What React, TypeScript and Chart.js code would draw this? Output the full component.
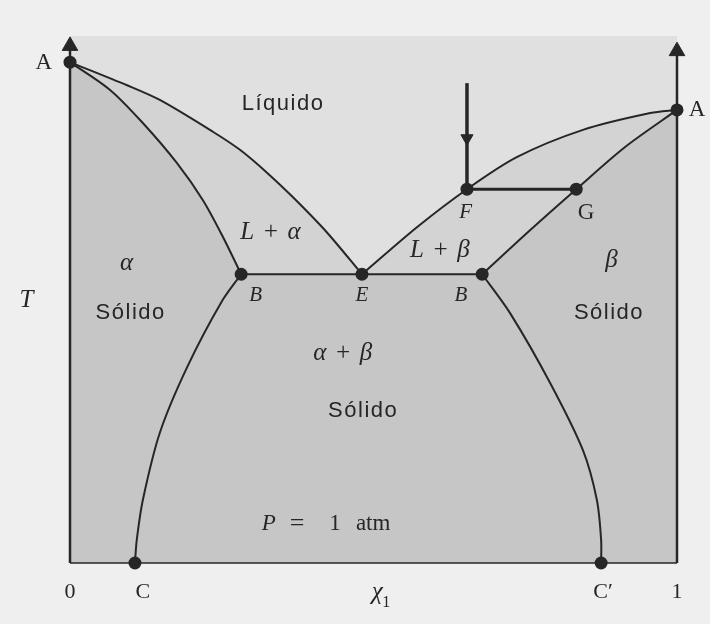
import React, { useEffect, useRef } from 'react';
import { Chart, registerables } from 'chart.js';

Chart.register(...registerables);

// Composition x (mole fraction) vs temperature T (relative units 0-100)
const liquidusLeft: number[][] = [[0, 95.4], [0.094, 91.0], [0.148, 88.2], [0.236, 82.1], [0.280, 78.7], [0.325, 74.3], [0.367, 69.7], [0.423, 63.0], [0.481, 55.0]];
const liquidusRight: number[][] = [[0.481, 55.0], [0.572, 64.0], [0.654, 71.2], [0.736, 77.3], [0.845, 82.5], [0.956, 85.7], [1, 86.3]];
const solidusLeft: number[][] = [[0, 95.4], [0.066, 90.1], [0.120, 83.8], [0.176, 76.2], [0.219, 69.1], [0.252, 62.1], [0.282, 55.0]];
const solidusRight: number[][] = [[0.679, 55.0], [0.756, 63.2], [0.834, 71.2], [0.914, 79.2], [1, 86.3]];
const solvusLeft: number[][] = [[0.282, 55.0], [0.250, 49.8], [0.193, 37.3], [0.148, 24.8], [0.120, 12.0], [0.110, 4.4], [0.107, 0]];
const solvusRight: number[][] = [[0.679, 55.0], [0.725, 47.6], [0.791, 34.3], [0.845, 21.5], [0.868, 12.0], [0.875, 4.4], [0.875, 0]];
const eutecticLine: number[][] = [[0.282, 55.0], [0.481, 55.0], [0.679, 55.0]];
const tieLine: number[][] = [[0.654, 71.2], [0.834, 71.2]];
const coolingPath: number[][] = [[0.654, 91.4], [0.654, 71.2]];
const leftAxisLine: number[][] = [[0, 0], [0, 98.5]];
const rightAxisLine: number[][] = [[1, 0], [1, 97.5]];
const baseLine: number[][] = [[0, 0], [1, 0]];

// Named points: A, A', B, E, B', F, G, C, C'
const markerPoints: number[][] = [[0, 95.4], [1, 86.3], [0.282, 55.0], [0.481, 55.0], [0.679, 55.0], [0.654, 71.2], [0.834, 71.2], [0.107, 0], [0.875, 0]];
// Arrow heads: two axis tips (up) and the cooling arrow (down)
const arrowPoints: number[][] = [[0, 98.5], [1, 97.5], [0.654, 80.9]];
const arrowRotation = [0, 0, 180];

// Tick labels along the composition axis
const xTickValues = [0, 0.12, 0.506, 0.878, 1];
const xTickLabels = ['0', 'C', 'χ', 'C′', '1'];

// Region / point annotations [text, x, T]
const labelTexts = ['A', 'A', 'Líquido', 'L + α', 'α', 'Sólido', 'B', 'E', 'B', 'L + β', 'F', 'G', 'β', 'Sólido', 'α + β', 'Sólido', 'T'];
const labelX = [-0.043, 1.033, 0.351, 0.331, 0.094, 0.100, 0.306, 0.481, 0.644, 0.610, 0.652, 0.850, 0.893, 0.888, 0.450, 0.483, -0.071];
const labelT = [95.2, 86.3, 87.4, 63.0, 57.1, 47.6, 50.9, 50.9, 50.9, 59.6, 66.7, 66.7, 57.7, 47.6, 40.0, 29.0, 50.1];
const labelKind = ['serif', 'serif', 'sans', 'ital', 'ital', 'sans', 'itals', 'itals', 'itals', 'ital', 'itals', 'serif', 'ital', 'sans', 'ital', 'sans', 'ital'];

const toXY = (arr: number[][]) => arr.map(([x, y]) => ({ x, y }));

const INK = '#262626';
const PAGE = '#efefef';
const LIQUID = '#e0e0e0';
const TWO_PHASE = '#d3d3d3';
const SOLID = '#c6c6c6';

export default function App() {
  const ref = useRef<HTMLCanvasElement>(null);

  useEffect(() => {
    if (!ref.current) return;

    const bgPlugin = {
      id: 'bgPlugin',
      beforeDraw(chart: any) {
        const { ctx, chartArea } = chart;
        ctx.save();
        ctx.fillStyle = PAGE;
        ctx.fillRect(0, 0, chart.width, chart.height);
        ctx.fillStyle = LIQUID;
        ctx.fillRect(chartArea.left, chartArea.top - 2, chartArea.right - chartArea.left, chartArea.bottom - chartArea.top + 2);
        ctx.restore();
      },
    };

    const textPlugin = {
      id: 'textPlugin',
      afterDatasetsDraw(chart: any) {
        const { ctx } = chart;
        const xs = chart.scales.x;
        const ys = chart.scales.y;
        ctx.save();
        ctx.fillStyle = INK;
        ctx.textAlign = 'center';
        ctx.textBaseline = 'middle';
        labelTexts.forEach((t, i) => {
          const kind = labelKind[i];
          if (kind === 'sans') {
            ctx.font = '22px "Liberation Sans", Arial, sans-serif';
            (ctx as any).letterSpacing = '1.5px';
          } else if (kind === 'ital') {
            ctx.font = 'italic 25px "Liberation Serif", serif';
            (ctx as any).letterSpacing = '1px';
          } else if (kind === 'itals') {
            ctx.font = 'italic 21px "Liberation Serif", serif';
            (ctx as any).letterSpacing = '0px';
          } else {
            ctx.font = '23px "Liberation Serif", serif';
            (ctx as any).letterSpacing = '0px';
          }
          ctx.fillText(t, xs.getPixelForValue(labelX[i]), ys.getPixelForValue(labelT[i]));
        });
        // P = 1 atm
        const py = ys.getPixelForValue(7.4);
        ctx.textAlign = 'left';
        (ctx as any).letterSpacing = '0px';
        ctx.font = 'italic 23px "Liberation Serif", serif';
        ctx.fillText('P', xs.getPixelForValue(0.316), py);
        ctx.font = '26px "Liberation Serif", serif';
        ctx.fillText('=', xs.getPixelForValue(0.362), py);
        ctx.font = '23px "Liberation Serif", serif';
        ctx.fillText('1', xs.getPixelForValue(0.427), py);
        ctx.fillText('atm', xs.getPixelForValue(0.471), py);
        // x tick labels
        ctx.textAlign = 'center';
        const ty = chart.chartArea.bottom + 29;
        xTickValues.forEach((v, i) => {
          ctx.font = i === 2 ? 'italic 25px "Liberation Serif", serif' : '22px "Liberation Serif", serif';
          const px = xs.getPixelForValue(v);
          ctx.fillText(xTickLabels[i], px, ty);
          if (i === 2) {
            ctx.font = '16px "Liberation Serif", serif';
            ctx.fillText('1', px + 9, ty + 11);
          }
        });
        ctx.restore();
      },
    };

    const lineDs = (data: number[][], width: number) => ({
      data: toXY(data),
      borderColor: INK,
      borderWidth: width,
      pointRadius: 0,
      fill: false,
      tension: 0.3,
      clip: false as any,
      order: 5,
    });

    const chart = new Chart(ref.current, {
      type: 'line',
      data: {
        datasets: [
          {
            data: toXY([...liquidusLeft, ...liquidusRight.slice(1)]),
            borderWidth: 0,
            borderColor: 'rgba(0,0,0,0)',
            backgroundColor: TWO_PHASE,
            pointRadius: 0,
            fill: 'origin',
            tension: 0,
            order: 10,
          },
          {
            data: toXY([...solidusLeft, ...eutecticLine.slice(1), ...solidusRight.slice(1)]),
            borderWidth: 0,
            borderColor: 'rgba(0,0,0,0)',
            backgroundColor: SOLID,
            pointRadius: 0,
            fill: 'origin',
            tension: 0,
            order: 9,
          },
          lineDs(liquidusLeft, 2),
          lineDs(liquidusRight, 2),
          lineDs(solidusLeft, 2),
          lineDs(solidusRight, 2),
          lineDs(solvusLeft, 2),
          lineDs(solvusRight, 2),
          lineDs(eutecticLine, 2),
          lineDs(tieLine, 3),
          lineDs(coolingPath, 3.5),
          lineDs(leftAxisLine, 2.5),
          lineDs(rightAxisLine, 2.5),
          lineDs(baseLine, 1.5),
          {
            data: toXY(markerPoints),
            showLine: false,
            pointRadius: 6.5,
            pointBackgroundColor: INK,
            pointBorderColor: INK,
            pointBorderWidth: 0,
            clip: false as any,
            order: 1,
          },
          {
            data: toXY(arrowPoints),
            showLine: false,
            pointStyle: 'triangle',
            pointRadius: [9, 9, 7],
            pointRotation: arrowRotation,
            pointBackgroundColor: INK,
            pointBorderColor: INK,
            pointBorderWidth: 1,
            clip: false as any,
            order: 0,
          },
        ] as any,
      },
      options: {
        animation: false,
        responsive: false,
        maintainAspectRatio: false,
        layout: { padding: { left: 70, right: 33, top: 38, bottom: 61 } },
        plugins: { legend: { display: false }, tooltip: { enabled: false } },
        events: [],
        scales: {
          x: { type: 'linear', min: 0, max: 1, display: false },
          y: { type: 'linear', min: 0, max: 100, display: false },
        },
      },
      plugins: [bgPlugin, textPlugin],
    });

    return () => chart.destroy();
  }, []);

  return (
    <div style={{ position: 'fixed', left: 0, top: 0, width: 710, height: 624, background: PAGE }}>
      <canvas ref={ref} width={710} height={624} style={{ display: 'block', width: 710, height: 624 }} />
    </div>
  );
}
